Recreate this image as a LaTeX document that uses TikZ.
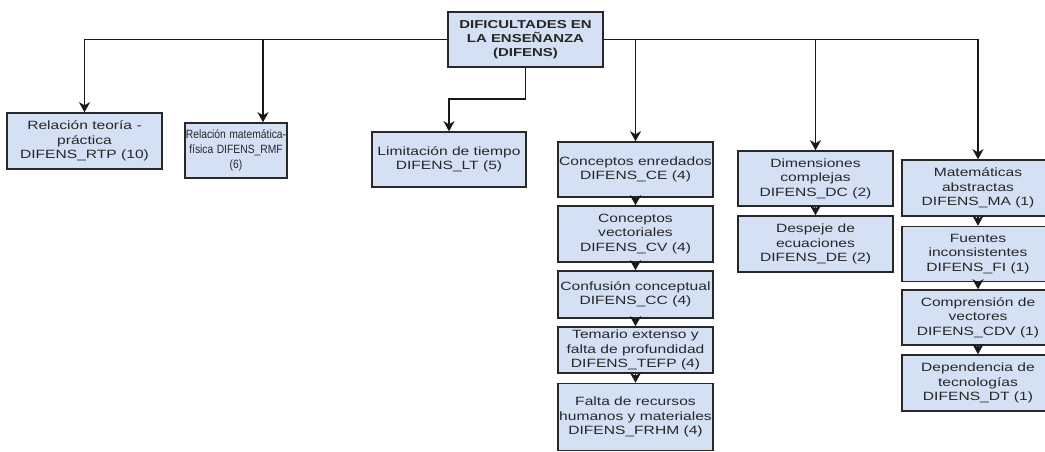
\documentclass[tikz,border=0pt]{standalone}
\usepackage{fontspec}
\setmainfont{Liberation Sans}[FakeStretch=1.3]
\newfontfamily\rmffont{Liberation Sans}
\usetikzlibrary{arrows.meta}
\definecolor{boxfill}{RGB}{212,225,245}
\definecolor{boxline}{RGB}{40,40,40}
\begin{document}
\begin{tikzpicture}[x=1pt,y=-1pt,
  box/.style={draw=boxline, fill=boxfill, line width=1.5pt, inner sep=0pt, align=center,
    font=\fontsize{12}{14.5}\selectfont, text=black!85},
  link/.style={draw=black!90, line width=1.8pt},
  arr/.style={link, -{Stealth[length=10pt,width=11pt,inset=3pt]}},
]
\useasboundingbox (0,0) rectangle (1045,452);
\clip (0,0) rectangle (1045,452);

% root
\node[box, minimum width=155pt, minimum height=55pt, font=\bfseries\fontsize{11.5}{14}\selectfont]
  (root) at (525.5,39.5) {DIFICULTADES EN\\LA ENSEÑANZA\\(DIFENS)};

% first level
\node[box, minimum width=155pt, minimum height=56pt] (rtp) at (84.5,141)
  {Relación teoría -\\práctica\\DIFENS\_RTP (10)};
\node[box, minimum width=102pt, minimum height=55pt, text width=102pt]
  (rmf) at (236,150.5) {\centering\rmffont\fontsize{12}{15}\selectfont
  \scalebox{0.86}[1]{Relación matemática-}\\\scalebox{0.86}[1]{física DIFENS\_RMF}\\\scalebox{0.86}[1]{(6)}};
\node[box, minimum width=154pt, minimum height=55pt] (lt) at (449,159.5)
  {Limitación de tiempo\\DIFENS\_LT (5)};

% CE column
\node[box, minimum width=155pt, minimum height=55pt] (ce) at (635.5,169.5)
  {Conceptos enredados\\DIFENS\_CE (4)};
\node[box, minimum width=155pt, minimum height=56pt] (cv) at (635.5,234)
  {Conceptos\\vectoriales\\DIFENS\_CV (4)};
\node[box, minimum width=155pt, minimum height=47pt] (cc) at (635.5,294.5)
  {Confusión conceptual\\DIFENS\_CC (4)};
\node[box, minimum width=155pt, minimum height=46pt] (tefp) at (635.5,350)
  {Temario extenso y\\falta de profundidad\\DIFENS\_TEFP (4)};
\node[box, minimum width=155pt, minimum height=67pt] (frhm) at (635.5,417)
  {Falta de recursos\\humanos y materiales\\DIFENS\_FRHM (4)};

% DC column
\node[box, minimum width=155pt, minimum height=55pt] (dc) at (815.5,178.5)
  {Dimensiones\\complejas\\DIFENS\_DC (2)};
\node[box, minimum width=155pt, minimum height=56pt] (de) at (815.5,244)
  {Despeje de\\ecuaciones\\DIFENS\_DE (2)};

% MA column
\node[box, minimum width=152pt, minimum height=56pt] (ma) at (978,188)
  {Matemáticas\\abstractas\\DIFENS\_MA (1)};
\node[box, minimum width=152pt, minimum height=55pt] (fi) at (978,254)
  {Fuentes\\inconsistentes\\DIFENS\_FI (1)};
\node[box, minimum width=152pt, minimum height=55pt] (cdv) at (978,317.5)
  {Comprensión de\\vectores\\DIFENS\_CDV (1)};
\node[box, minimum width=152pt, minimum height=56pt] (dt) at (978,383)
  {Dependencia de\\tecnologías\\DIFENS\_DT (1)};

% connectors
\coordinate (rmfin) at (263,39.5);
\coordinate (ltbend) at (449,99);
\draw[arr] (root.west) -| (rtp.north);
\draw[arr] (rmfin) -- (rmfin |- rmf.north);
\draw[arr] (root.south) |- (ltbend) -- (lt.north);
\draw[arr] (root.east) -| (ma.north);
\draw[arr] (ce.north |- root.east) -- (ce.north);
\draw[arr] (dc.north |- root.east) -- (dc.north);

\draw[arr] (ce.south) -- (cv.north);
\draw[arr] (cv.south) -- (cc.north);
\draw[arr] (cc.south) -- (tefp.north);
\draw[arr] (tefp.south) -- (frhm.north);
\draw[arr] (dc.south) -- (de.north);
\draw[arr] (ma.south) -- (fi.north);
\draw[arr] (fi.south) -- (cdv.north);
\draw[arr] (cdv.south) -- (dt.north);
\end{tikzpicture}
\end{document}
